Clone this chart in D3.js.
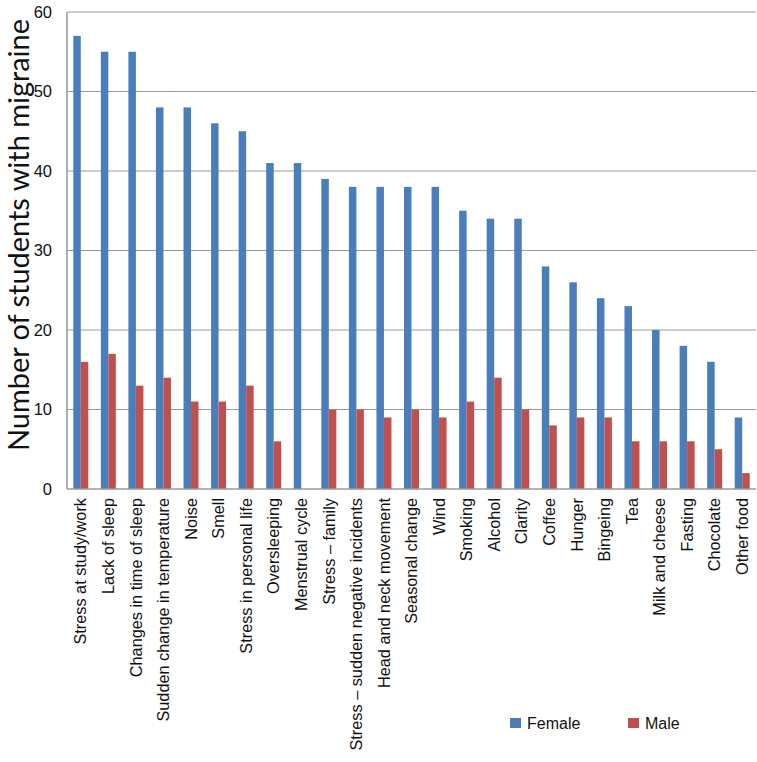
<!DOCTYPE html>
<html>
<head>
<meta charset="utf-8">
<script src="https://cdn.jsdelivr.net/npm/d3@7"></script>
<style>
  html, body { margin: 0; padding: 0; background: #fff; }
  svg { display: block; }
</style>
</head>
<body>
<svg id="chart" width="757" height="762"></svg>
<script>
const categories = [
  "Stress at study/work", "Lack of sleep", "Changes in time of sleep",
  "Sudden change in temperature", "Noise", "Smell", "Stress in personal life",
  "Oversleeping", "Menstrual cycle", "Stress \u2013 family",
  "Stress \u2013 sudden negative incidents", "Head and neck movement",
  "Seasonal change", "Wind", "Smoking", "Alcohol", "Clarity", "Coffee",
  "Hunger", "Bingeing", "Tea", "Milk and cheese", "Fasting", "Chocolate",
  "Other food"
];
const female = [57, 55, 55, 48, 48, 46, 45, 41, 41, 39, 38, 38, 38, 38, 35, 34, 34, 28, 26, 24, 23, 20, 18, 16, 9];
const male   = [16, 17, 13, 14, 11, 11, 13, 6, 0, 10, 10, 9, 10, 9, 11, 14, 10, 8, 9, 9, 6, 6, 6, 5, 2];
const seriesNames = ["Female", "Male"];
const seriesColors = ["#4a7ebb", "#c0504d"];
const yTicks = [0, 10, 20, 30, 40, 50, 60];
const yTitle = "Number of students with migraine";

const svg = d3.select("#chart");
const plot = { left: 67, right: 756, top: 12, bottom: 489 };

const x = d3.scaleBand().domain(categories).range([plot.left, plot.right])
  .paddingInner(0.456).paddingOuter(0.228);
const xs = d3.scaleBand().domain(seriesNames).range([0, x.bandwidth()]);
const y = d3.scaleLinear().domain([0, 60]).range([plot.bottom, plot.top]);

// gridlines
svg.append("g").selectAll("line").data(yTicks.filter(d => d > 0)).join("line")
  .attr("x1", plot.left).attr("x2", plot.right)
  .attr("y1", d => y(d)).attr("y2", d => y(d))
  .attr("stroke", "#9a9a9a").attr("stroke-width", 1);

// bars
const rows = categories.map((c, i) => ({ c, vals: [female[i], male[i]] }));
const groups = svg.append("g").selectAll("g").data(rows).join("g")
  .attr("transform", d => `translate(${x(d.c)},0)`);
groups.selectAll("rect").data(d => d.vals.map((v, j) => ({ v, s: seriesNames[j], col: seriesColors[j] })))
  .join("rect")
  .attr("x", d => xs(d.s)).attr("width", xs.bandwidth())
  .attr("y", d => y(d.v)).attr("height", d => y(0) - y(d.v))
  .attr("fill", d => d.col);

// axes lines
svg.append("line").attr("x1", plot.left).attr("x2", plot.left)
  .attr("y1", plot.top).attr("y2", plot.bottom)
  .attr("stroke", "#9a9aa6").attr("stroke-width", 1.6);
svg.append("line").attr("x1", plot.left).attr("x2", plot.right)
  .attr("y1", plot.bottom).attr("y2", plot.bottom)
  .attr("stroke", "#9a9a9a").attr("stroke-width", 1.6);

// y tick labels
const yAxis = d3.axisLeft(y).tickValues(yTicks).tickSize(0).tickPadding(15);
const ya = svg.append("g").attr("transform", `translate(${plot.left},0)`).call(yAxis);
ya.select(".domain").remove();
ya.selectAll("text").attr("font-family", "Liberation Sans, Arial, sans-serif")
  .attr("font-size", 16.5).attr("fill", "#111");

// x category labels
const xAxis = d3.axisBottom(x).tickSize(0).tickPadding(0);
const xa = svg.append("g").attr("transform", `translate(0,${plot.bottom})`).call(xAxis);
xa.select(".domain").remove();
xa.selectAll("text")
  .attr("font-family", "Liberation Sans, Arial, sans-serif")
  .attr("font-size", 16.3).attr("fill", "#111")
  .attr("text-anchor", "end")
  .attr("transform", "translate(0,9) rotate(-90)")
  .attr("x", 0).attr("y", 0).attr("dy", "0.35em");

// y axis title
const t = svg.append("text")
  .attr("transform", "translate(19,235) rotate(-90)")
  .attr("text-anchor", "middle").attr("dy", "0.35em")
  .attr("font-family", "Lato, 'Open Sans', sans-serif")
  .attr("font-size", 26).attr("fill", "#111")
  .text(yTitle);
const len = t.node().getComputedTextLength();
t.attr("font-size", 26 * 432 / len);

// legend
const legend = svg.append("g");
const legX = [510, 628];
seriesNames.forEach((s, i) => {
  legend.append("rect").attr("x", legX[i]).attr("y", 718).attr("width", 11).attr("height", 10)
    .attr("fill", seriesColors[i]);
  legend.append("text").attr("x", legX[i] + 17).attr("y", 723).attr("dy", "0.35em")
    .attr("font-family", "Liberation Sans, Arial, sans-serif").attr("font-size", 16)
    .attr("fill", "#111").text(s);
});
</script>
</body>
</html>
